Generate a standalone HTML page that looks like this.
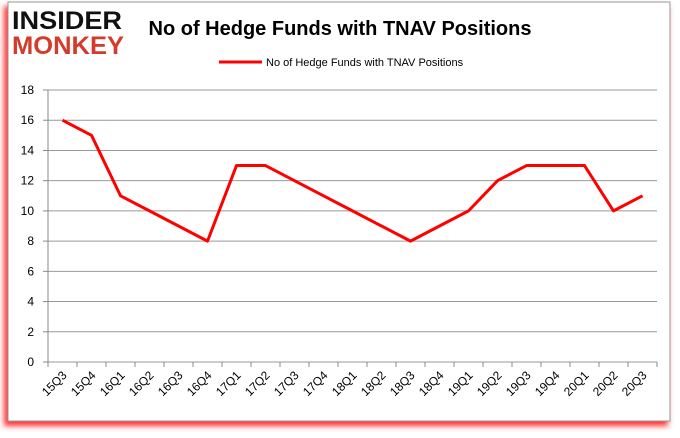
<!DOCTYPE html>
<html><head><meta charset="utf-8"><style>
body{margin:0;width:680px;height:433px;background:#fff;overflow:hidden;font-family:"Liberation Sans",sans-serif}
</style></head><body>
<svg width="680" height="433" xmlns="http://www.w3.org/2000/svg">
<defs><filter id="sh" x="-5%" y="-5%" width="110%" height="115%"><feGaussianBlur stdDeviation="3"/></filter></defs>
<rect x="4" y="6" width="664" height="420" fill="#f33" filter="url(#sh)"/>
<rect x="8" y="2" width="662" height="419" fill="#fff" stroke="#999"/>
<g font-family="Liberation Sans" font-weight="bold" font-size="25">
<text x="12" y="29" fill="#111" textLength="110" lengthAdjust="spacingAndGlyphs">INSIDER</text>
<text x="12" y="54" fill="#d43b2b" textLength="112" lengthAdjust="spacingAndGlyphs">MONKEY</text>
</g>
<text x="340" y="35" text-anchor="middle" font-size="20" font-weight="bold" fill="#000">No of Hedge Funds with TNAV Positions</text>
<g>
<line x1="219" y1="62" x2="262" y2="62" stroke="#f00" stroke-width="3"/>
<text x="266" y="66" font-size="11" fill="#000">No of Hedge Funds with TNAV Positions</text>
</g>
<g id="grid"></g><g id="axes"></g><g id="series"></g>
</svg>
<script>
const categories=["15Q3","15Q4","16Q1","16Q2","16Q3","16Q4","17Q1","17Q2","17Q3","17Q4","18Q1","18Q2","18Q3","18Q4","19Q1","19Q2","19Q3","19Q4","20Q1","20Q2","20Q3"];
const values=[16,15,11,10,9,8,13,13,12,11,10,9,8,9,10,12,13,13,13,10,11];
const yTicks=[0,2,4,6,8,10,12,14,16,18];
const NS="http://www.w3.org/2000/svg";
const L=48,R=657,T=90,B=362,yMax=18;
const step=(R-L)/categories.length;
const xs=i=>L+step*(i+0.5);
const ys=v=>B-(B-T)*v/yMax;
function mk(tag,attrs,parent){const e=document.createElementNS(NS,tag);for(const k in attrs)e.setAttribute(k,attrs[k]);document.getElementById(parent).appendChild(e);return e;}
yTicks.forEach(t=>{
 const g=mk('line',{x1:L,x2:R,y1:ys(t),y2:ys(t),stroke:'#999','stroke-width':1},'grid');
 
 
 const k=mk('line',{x1:L-5,x2:L,y1:ys(t),y2:ys(t),stroke:'#888'},'axes');
 
 
 const tx=mk('text',{x:L-14,y:ys(t)+4,'text-anchor':'end','font-size':12,fill:'#000'},'axes');
 tx.textContent=t;
 
 
});
const ya=mk('line',{x1:L,x2:L,y1:T,y2:B,stroke:'#888'},'axes');


for(let i=0;i<=categories.length;i++){
 const k=mk('line',{x1:L+step*i,x2:L+step*i,y1:B,y2:B+5,stroke:'#888'},'axes');
 
 
}
categories.forEach((c,i)=>{
 const x=xs(i)+5,y=B+14;
 const tx=mk('text',{x:x,y:y,'text-anchor':'end','font-size':12,fill:'#000',transform:`rotate(-45 ${x} ${y})`},'axes');
 tx.textContent=c;
 
 
});
const pl=mk('polyline',{points:values.map((v,i)=>xs(i)+','+ys(v)).join(' '),fill:'none',stroke:'#f00','stroke-width':3,'stroke-linejoin':'round'},'series');


</script>
</body></html>
